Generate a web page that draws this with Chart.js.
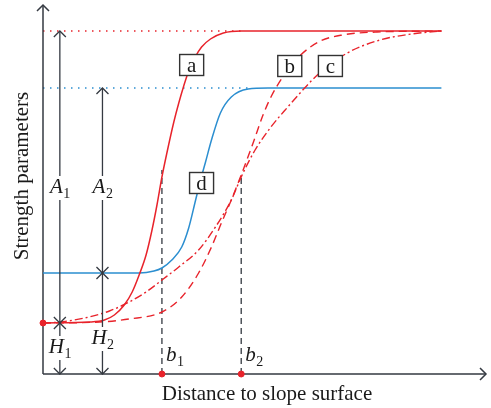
<!DOCTYPE html>
<html>
<head>
<meta charset="utf-8">
<script src="https://cdn.jsdelivr.net/npm/chart.js@4/dist/chart.umd.min.js"></script>
<style>
  html, body { margin: 0; padding: 0; background: #ffffff; }
  #wrap { width: 491px; height: 408px; }
</style>
</head>
<body>
<div id="wrap"><canvas id="chart" width="491" height="408"></canvas></div>
<script>
// Schematic values (x = distance, y = strength, arbitrary units)
const xMax = 447;
const yMax = 369;

// curve a: red solid
const curveA = [[0,51],[47,52],[62,54],[72,59],[82,69],[90,82],[97,99],[104,119],[110,144],[115,169],
  [120,197],[125,221],[132,252],[137,271],[142,288],[147,303],[153,316],[160,327],[169,335],[182,341],[200,343],[402,343]];
// curve b: red dashed
const curveB = [[0,51],[57,52],[87,55],[120,62],[140,77],[157,101],[170,127],[180,151],[190,174],[200,199],
  [212,231],[222,259],[230,277],[242,297],[260,319],[280,333],[302,339],[337,342],[402,343]];
// curve c: red dash-dot
const curveC = [[0,51],[17,52],[42,56],[67,63],[87,72],[104,82],[120,94],[137,107],[157,124],[174,147],
  [190,174],[200,197],[214,224],[230,247],[247,267],[264,286],[279,301],[307,321],[340,334],[372,340],[402,343]];
// curve d: blue solid
const curveD = [[0,101],[97,101],[112,103],[120,106],[130,114],[140,127],[147,146],[154,174],[159,194],
  [164,212],[170,234],[179,261],[190,277],[207,285],[227,286],[402,286]];

// reference levels
const redTop = 343, redBase = 51;
const blueTop = 286, blueBase = 101;
const redTopDottedEnd = 200;
const blueTopDottedEnd = 207;

// b1, b2 positions and heights of the dashed guides
const bPositions = [120, 200];
const bGuideTops = [204, 199];
const bNames = ['1', '2'];

// dimension arrows: [x, from, to, letter, sub, labelY]
const dimArrows = [
  [17, redBase, redTop, 'A', '1', 187],
  [60, blueBase, blueTop, 'A', '2', 187],
  [17, 0, redBase, 'H', '1', 27],
  [60, 0, blueBase, 'H', '2', 36]
];

// curve tags: [text, x, y]
const curveTags = [['a', 150, 309], ['b', 249, 308], ['c', 290, 308], ['d', 160, 191]];

const red = '#e8232b';
const blue = '#2b8ed0';
const ink = '#353a42';
const serif = '"Liberation Serif", "DejaVu Serif", serif';

function pts(arr) {
  return arr.map(p => ({ x: p[0], y: p[1] }));
}

function chevron(ctx, px, py, dir, s) {
  ctx.beginPath();
  if (dir === 'up') {
    ctx.moveTo(px - s, py + s); ctx.lineTo(px, py); ctx.lineTo(px + s, py + s);
  } else if (dir === 'down') {
    ctx.moveTo(px - s, py - s); ctx.lineTo(px, py); ctx.lineTo(px + s, py - s);
  } else {
    ctx.moveTo(px - s, py - s); ctx.lineTo(px, py); ctx.lineTo(px - s, py + s);
  }
  ctx.stroke();
}

function subLabel(ctx, letter, sub, cx, cy, align, blank) {
  ctx.font = 'italic 21px ' + serif;
  const w1 = ctx.measureText(letter).width;
  ctx.font = '14px ' + serif;
  const w2 = ctx.measureText(sub).width;
  const w = w1 + w2;
  const left = align === 'left' ? cx : cx - w / 2;
  if (blank) {
    ctx.fillStyle = '#ffffff';
    ctx.fillRect(left - 2, cy - 11, w + 4, 24);
  }
  ctx.fillStyle = '#1a1a1a';
  ctx.textBaseline = 'middle';
  ctx.textAlign = 'left';
  ctx.font = 'italic 21px ' + serif;
  ctx.fillText(letter, left, cy);
  ctx.font = '14px ' + serif;
  ctx.fillText(sub, left + w1 + 0.5, cy + 7);
}

const sketchPlugin = {
  id: 'sketch',
  beforeDatasetsDraw(chart) {
    const { ctx, scales: { x, y } } = chart;
    ctx.save();
    // dotted top levels
    ctx.lineWidth = 1.4;
    ctx.setLineDash([1.5, 5.5]);
    ctx.strokeStyle = red;
    ctx.beginPath();
    ctx.moveTo(x.getPixelForValue(0), y.getPixelForValue(redTop));
    ctx.lineTo(x.getPixelForValue(redTopDottedEnd), y.getPixelForValue(redTop));
    ctx.stroke();
    ctx.strokeStyle = blue;
    ctx.beginPath();
    ctx.moveTo(x.getPixelForValue(0), y.getPixelForValue(blueTop));
    ctx.lineTo(x.getPixelForValue(blueTopDottedEnd), y.getPixelForValue(blueTop));
    ctx.stroke();
    ctx.setLineDash([]);

    // axes
    const ox = x.getPixelForValue(0), oy = y.getPixelForValue(0);
    ctx.strokeStyle = ink;
    ctx.lineWidth = 1.5;
    ctx.beginPath();
    ctx.moveTo(ox, oy); ctx.lineTo(x.getPixelForValue(xMax), oy);
    ctx.moveTo(ox, oy); ctx.lineTo(ox, y.getPixelForValue(yMax));
    ctx.stroke();
    chevron(ctx, x.getPixelForValue(xMax), oy, 'right', 6);
    chevron(ctx, ox, y.getPixelForValue(yMax), 'up', 6);
    ctx.restore();
  },
  afterDatasetsDraw(chart) {
    const { ctx, scales: { x, y } } = chart;
    ctx.save();
    // dimension arrows
    ctx.strokeStyle = ink;
    ctx.lineWidth = 1.3;
    dimArrows.forEach(a => {
      const px = x.getPixelForValue(a[0]);
      const y0 = y.getPixelForValue(a[1]), y1 = y.getPixelForValue(a[2]);
      ctx.beginPath(); ctx.moveTo(px, y0); ctx.lineTo(px, y1); ctx.stroke();
      chevron(ctx, px, y0, 'down', 6);
      chevron(ctx, px, y1, 'up', 6);
    });
    dimArrows.forEach(a => {
      subLabel(ctx, a[3], a[4], x.getPixelForValue(a[0]), y.getPixelForValue(a[5]), 'center', true);
    });

    // b1, b2 labels
    bPositions.forEach((b, i) => {
      subLabel(ctx, 'b', bNames[i], x.getPixelForValue(b) + 4, y.getPixelForValue(19), 'left', false);
    });

    // boxed curve tags
    ctx.font = '21px ' + serif;
    ctx.textAlign = 'center';
    ctx.textBaseline = 'middle';
    curveTags.forEach(t => {
      const cx = x.getPixelForValue(t[1]), cy = y.getPixelForValue(t[2]);
      ctx.fillStyle = '#ffffff';
      ctx.fillRect(cx - 12, cy - 10.5, 24, 21);
      ctx.strokeStyle = '#333333';
      ctx.lineWidth = 1.4;
      ctx.strokeRect(cx - 12, cy - 10.5, 24, 21);
      ctx.fillStyle = '#1a1a1a';
      ctx.fillText(t[0], cx, cy + 1);
    });

    // axis titles
    ctx.fillStyle = '#1a1a1a';
    ctx.font = '21px ' + serif;
    ctx.textAlign = 'center';
    ctx.textBaseline = 'middle';
    ctx.fillText('Distance to slope surface', 267, 394);
    ctx.translate(22, 176);
    ctx.rotate(-Math.PI / 2);
    ctx.fillText('Strength parameters', 0, 0);
    ctx.restore();
  }
};

const guideSets = bPositions.map((b, i) => ({
  data: pts([[b, 0], [b, bGuideTops[i]]]),
  borderColor: ink,
  borderWidth: 1.3,
  borderDash: [6, 4],
  pointRadius: 0,
  order: 5
}));

new Chart(document.getElementById('chart').getContext('2d'), {
  type: 'line',
  data: {
    datasets: [
      ...guideSets,
      { data: pts(curveD), borderColor: blue, borderWidth: 1.5, pointRadius: 0, cubicInterpolationMode: 'monotone', order: 4 },
      { data: pts(curveC), borderColor: red, borderWidth: 1.4, borderDash: [8, 3, 2, 3], pointRadius: 0, cubicInterpolationMode: 'monotone', order: 3 },
      { data: pts(curveB), borderColor: red, borderWidth: 1.4, borderDash: [8, 5], pointRadius: 0, cubicInterpolationMode: 'monotone', order: 2 },
      { data: pts(curveA), borderColor: red, borderWidth: 1.5, pointRadius: 0, cubicInterpolationMode: 'monotone', order: 1 },
      {
        type: 'scatter',
        data: pts([[0, redBase], [bPositions[0], 0], [bPositions[1], 0]]),
        backgroundColor: red, borderColor: red, pointRadius: 3, clip: false, order: 0
      }
    ]
  },
  options: {
    responsive: false,
    animation: false,
    layout: { padding: { left: 43, right: 1, top: 5, bottom: 34 } },
    plugins: { legend: { display: false }, tooltip: { enabled: false } },
    scales: {
      x: { type: 'linear', min: 0, max: xMax, display: false },
      y: { type: 'linear', min: 0, max: yMax, display: false }
    }
  },
  plugins: [sketchPlugin]
});
</script>
</body>
</html>
